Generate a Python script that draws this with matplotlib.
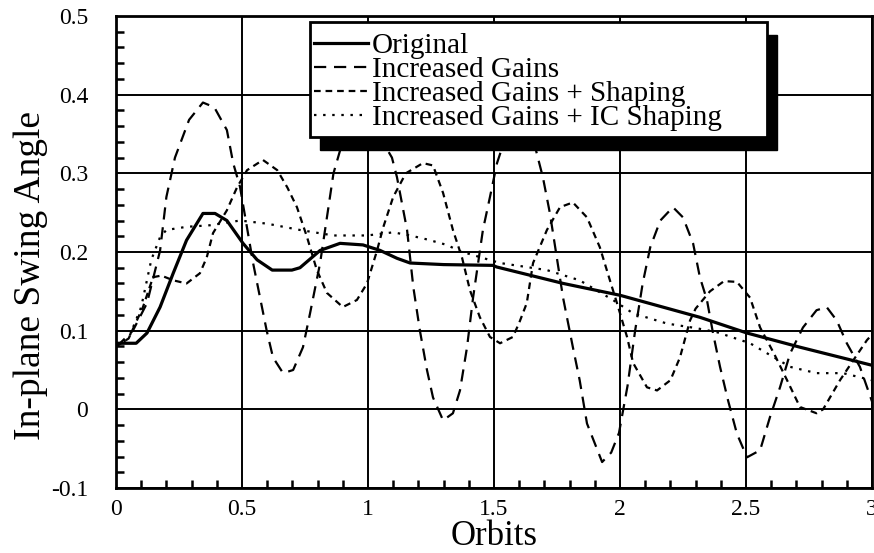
import numpy as np
import matplotlib
matplotlib.use("Agg")
import matplotlib.pyplot as plt
from matplotlib.patches import Rectangle
from matplotlib.ticker import MultipleLocator

plt.rcParams['font.family'] = ['Liberation Serif', 'DejaVu Serif']

# values (orbits, swing angle)
orig_x = [0, 0.08, 0.123, 0.175, 0.227, 0.28, 0.345, 0.393, 0.44, 0.504, 0.56, 0.62,
          0.698, 0.73, 0.81, 0.889, 0.98, 1.048, 1.115, 1.167, 1.3, 1.496, 1.51,
          1.775, 2.0, 2.317, 2.504, 2.714, 3.0]
orig_y = [0.084, 0.084, 0.097, 0.13, 0.173, 0.215, 0.249, 0.249, 0.24, 0.211, 0.19, 0.177,
          0.177, 0.18, 0.202, 0.211, 0.209, 0.202, 0.192, 0.186, 0.184, 0.183, 0.181,
          0.160, 0.145, 0.117, 0.097, 0.079, 0.056]

gains_x = [0, 0.067, 0.123, 0.175, 0.2, 0.234, 0.29, 0.345, 0.39, 0.44, 0.465, 0.492,
           0.544, 0.571, 0.598, 0.623, 0.663, 0.703, 0.742, 0.77, 0.81, 0.837, 0.863,
           0.89, 0.95, 1.04, 1.095, 1.115, 1.155, 1.18, 1.206, 1.234, 1.258, 1.298,
           1.337, 1.365, 1.393, 1.417, 1.456, 1.484, 1.512, 1.55, 1.6, 1.65, 1.694,
           1.722, 1.774, 1.813, 1.84, 1.869, 1.929, 1.965, 1.996, 2.03, 2.06, 2.09,
           2.12, 2.16, 2.21, 2.25, 2.29, 2.317, 2.345, 2.369, 2.397, 2.429, 2.464,
           2.504, 2.556, 2.595, 2.635, 2.675, 2.726, 2.78, 2.82, 2.86, 2.9, 2.952, 3.0]
gains_y = [0.079, 0.1, 0.135, 0.202, 0.27, 0.32, 0.368, 0.39, 0.384, 0.355, 0.313, 0.283,
           0.186, 0.143, 0.10, 0.066, 0.046, 0.05, 0.079, 0.122, 0.186, 0.244, 0.30,
           0.33, 0.355, 0.35, 0.32, 0.295, 0.228, 0.155, 0.10, 0.05, 0.015, -0.014,
           -0.005, 0.024, 0.079, 0.142, 0.228, 0.27, 0.313, 0.35, 0.37, 0.35, 0.295,
           0.249, 0.142, 0.079, 0.037, -0.018, -0.067, -0.055, -0.03, 0.03, 0.10, 0.16,
           0.206, 0.24, 0.257, 0.244, 0.211, 0.168, 0.139, 0.097, 0.054, 0.011, -0.031,
           -0.061, -0.052, -0.01, 0.028, 0.071, 0.104, 0.126, 0.13, 0.113, 0.084, 0.054, 0.01]

shape_x = [0, 0.05, 0.107, 0.147, 0.18, 0.227, 0.28, 0.333, 0.36, 0.385, 0.44, 0.48,
           0.52, 0.583, 0.64, 0.68, 0.718, 0.758, 0.797, 0.837, 0.9, 0.956, 0.996,
           1.036, 1.06, 1.1, 1.15, 1.218, 1.258, 1.298, 1.337, 1.373, 1.405, 1.444,
           1.484, 1.524, 1.575, 1.6, 1.63, 1.655, 1.71, 1.762, 1.813, 1.869, 1.92,
           1.96, 1.988, 2.028, 2.052, 2.107, 2.147, 2.2, 2.238, 2.278, 2.3, 2.357,
           2.413, 2.464, 2.516, 2.556, 2.611, 2.663, 2.714, 2.78, 2.806, 2.873, 2.925,
           2.98, 3.0]
shape_y = [0.08, 0.09, 0.13, 0.168, 0.17, 0.164, 0.16, 0.173, 0.193, 0.224, 0.253, 0.282,
           0.304, 0.317, 0.304, 0.282, 0.257, 0.219, 0.177, 0.148, 0.13, 0.139, 0.16,
           0.202, 0.231, 0.27, 0.30, 0.313, 0.31, 0.275, 0.228, 0.193, 0.151, 0.117,
           0.092, 0.084, 0.092, 0.11, 0.135, 0.186, 0.228, 0.257, 0.263, 0.244, 0.206,
           0.164, 0.135, 0.092, 0.059, 0.028, 0.024, 0.037, 0.066, 0.113, 0.128, 0.15,
           0.163, 0.162, 0.142, 0.104, 0.071, 0.037, 0.003, -0.005, 0.0, 0.037, 0.062,
           0.088, 0.095]

ic_x = [0, 0.05, 0.1, 0.14, 0.175, 0.2, 0.28, 0.373, 0.492, 0.6, 0.73, 0.863, 0.996,
        1.1, 1.167, 1.234, 1.313, 1.365, 1.524, 1.71, 1.84, 1.972, 2.052, 2.187, 2.306,
        2.385, 2.516, 2.675, 2.78, 2.885, 3.0]
ic_y = [0.08, 0.09, 0.13, 0.19, 0.219, 0.228, 0.232, 0.234, 0.24, 0.236, 0.228, 0.221,
        0.221, 0.225, 0.221, 0.216, 0.209, 0.201, 0.186, 0.177, 0.164, 0.139, 0.122,
        0.109, 0.103, 0.098, 0.084, 0.054, 0.046, 0.046, 0.037]

labels = ['Original', 'Increased Gains', 'Increased Gains + Shaping',
          'Increased Gains + IC Shaping']

fig = plt.figure(figsize=(8.74, 5.53), dpi=100)
ax = fig.add_axes([116/874, 1 - 488/553, 756/874, 472/553])

ax.plot(orig_x, orig_y, color='black', lw=2.3, label=labels[0])
ax.plot(gains_x, gains_y, color='black', lw=1.6, dashes=(5.5, 3.5), label=labels[1])
ax.plot(shape_x, shape_y, color='black', lw=1.6, dashes=(3.0, 2.2), label=labels[2])
ax.plot(ic_x, ic_y, color='black', lw=1.6, dashes=(1.1, 3.0), label=labels[3])

ax.set_xlim(0, 3)
ax.set_ylim(-0.1, 0.5)
ax.xaxis.set_minor_locator(MultipleLocator(0.1))
ax.yaxis.set_minor_locator(MultipleLocator(0.02))
ax.set_xticks([0, 0.5, 1, 1.5, 2, 2.5, 3], ['0', '0.5', '1', '1.5', '2', '2.5', '3'])
ax.set_yticks([-0.1, 0, 0.1, 0.2, 0.3, 0.4, 0.5],
              ['-0.1', '0', '0.1', '0.2', '0.3', '0.4', '0.5'])
ax.grid(True, which='major', color='black', lw=1.4)
ax.tick_params(which='both', direction='in', top=False, right=False,
               labelsize=17, width=1.8)
ax.tick_params(axis='y', which='major', pad=20, length=0)
ax.tick_params(axis='x', which='major', pad=8, length=0)
ax.tick_params(which='minor', length=6)
for s in ax.spines.values():
    s.set_linewidth(2)

ax.set_xlabel('Orbits', fontsize=25, labelpad=0)
ax.set_ylabel('In-plane Swing Angle', fontsize=27)
ax.yaxis.set_label_coords(-0.09, 0.45)

# legend box with a heavy drop shadow
bx, by, bw, bh = 0.2566, 0.744, 0.6044, 0.243
ax.add_patch(Rectangle((bx + 0.0132, by - 0.0275), bw, bh, transform=ax.transAxes,
                       facecolor='black', edgecolor='black', zorder=4, clip_on=False))
ax.add_patch(Rectangle((bx, by), bw, bh, transform=ax.transAxes, facecolor='white',
                       edgecolor='black', lw=2, zorder=4.1, clip_on=False))
leg = ax.legend(loc='upper left', bbox_to_anchor=(bx + 0.005, by + bh - 0.022),
                frameon=False, fontsize=21, handlelength=1.85, handletextpad=0.15,
                labelspacing=-0.08, borderpad=0, borderaxespad=0)
leg.set_zorder(5)

fig.savefig('out.png', dpi=100)
